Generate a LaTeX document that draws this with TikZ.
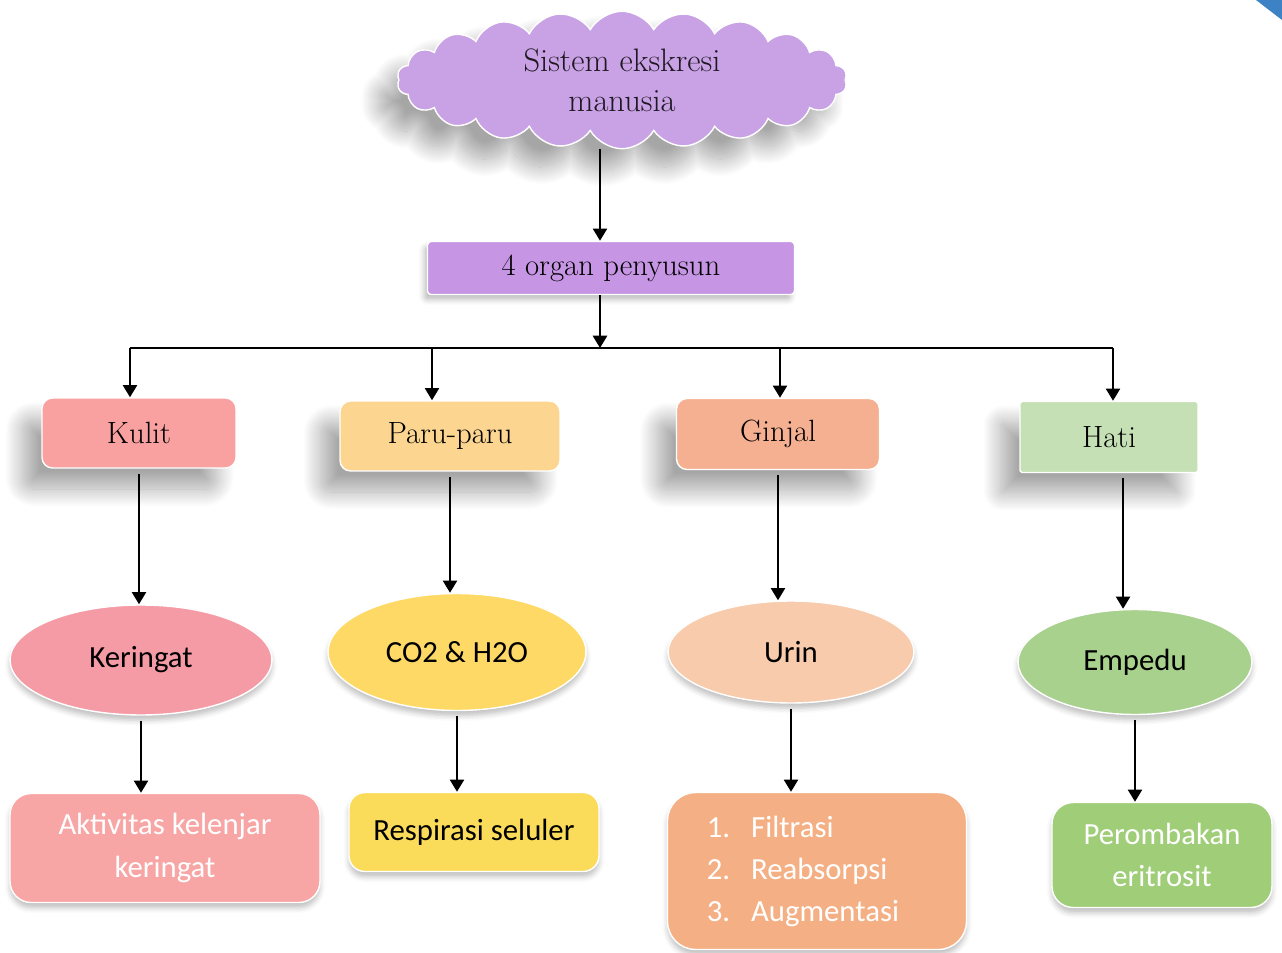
\documentclass[tikz,border=0pt]{standalone}
\usepackage{fontspec}
\setsansfont{Carlito}
\usetikzlibrary{shapes.symbols, shapes.geometric, arrows.meta, shadows.blur}

\definecolor{ungu}{HTML}{C8A2E4}
\definecolor{unguKotak}{HTML}{C696E4}
\definecolor{merahMuda}{HTML}{F9A0A0}
\definecolor{krem}{HTML}{FCD691}
\definecolor{salem}{HTML}{F5B091}
\definecolor{hijauMuda}{HTML}{C5E0B4}
\definecolor{pinkTua}{HTML}{F59BA5}
\definecolor{kuning}{HTML}{FFD966}
\definecolor{peach}{HTML}{F8CBAD}
\definecolor{hijau}{HTML}{A9D18E}
\definecolor{pinkKotak}{HTML}{F7A5A5}
\definecolor{kuningKotak}{HTML}{FADC5A}
\definecolor{oranye}{HTML}{F4B084}
\definecolor{hijauKotak}{HTML}{A0CD78}
\definecolor{biruPojok}{HTML}{3E82C6}

\begin{document}
\begin{tikzpicture}[x=0.02cm, y=-0.02cm, line width=1.4pt,
  >={Triangle[width=8pt,length=7pt]},
  bayang/.style={blur shadow={shadow xshift=-11pt, shadow yshift=-12pt,
    shadow blur radius=10pt, shadow blur steps=25, shadow opacity=35}},
  organ/.style={rectangle, rounded corners=6pt, draw=white, line width=0.8pt,
    font=\fontsize{17.5}{21}\selectfont, bayang},
  hasil/.style={ellipse, draw=white, line width=0.8pt,
    font=\sffamily\fontsize{17.5}{21}\selectfont,
    blur shadow={shadow xshift=0pt, shadow yshift=-3pt, shadow blur radius=3pt, shadow opacity=25}},
  proses/.style={rectangle, rounded corners=12pt, draw=white, line width=0.8pt,
    align=center, text=white, font=\sffamily\fontsize{17.5}{24}\selectfont,
    blur shadow={shadow xshift=0pt, shadow yshift=-3pt, shadow blur radius=3pt, shadow opacity=25}}]
\useasboundingbox (0,0) rectangle (1282,953);

% pojok
\fill[biruPojok] (1256,0) -- (1282,0) -- (1282,20) -- cycle;

% puncak
\node[cloud, cloud puffs=22, cloud puff arc=120, cloud ignores aspect, fill=ungu, draw=white, line width=0.8pt,
  minimum width=9cm, minimum height=2.75cm, align=center, text=black!85!ungu,
  font=\fontsize{18.5}{22.7}\selectfont, bayang] (sistem) at (622,80) {Sistem ekskresi\\manusia};
\node[rectangle, rounded corners=2pt, fill=unguKotak, draw=white, line width=0.8pt,
  minimum width=7.34cm, minimum height=1.06cm, font=\fontsize{17.5}{20}\selectfont,
  blur shadow={shadow xshift=-2pt, shadow yshift=-3pt, shadow blur radius=3pt, shadow opacity=25}]
  (penyusun) at (611,268) {4 organ penyusun};

% organ
\node[organ, fill=merahMuda, minimum width=3.88cm, minimum height=1.4cm] (kulit) at (139,433) {Kulit};
\node[organ, fill=krem, minimum width=4.4cm, minimum height=1.4cm] (paru) at (450,436) {Paru-paru};
\node[organ, fill=salem, minimum width=4.06cm, minimum height=1.42cm] (ginjal) at (778,434) {Ginjal};
\node[organ, fill=hijauMuda, rounded corners=1pt, minimum width=3.56cm, minimum height=1.42cm] (hati) at (1109,437) {Hati};

% zat
\node[hasil, fill=pinkTua, minimum width=5.24cm, minimum height=2.2cm] (keringat) at (141,660) {Keringat};
\node[hasil, fill=kuning, minimum width=5.16cm, minimum height=2.34cm] (co2) at (457,652) {CO2 \& H2O};
\node[hasil, fill=peach, minimum width=4.92cm, minimum height=2.04cm] (urin) at (791,652) {Urin};
\node[hasil, fill=hijau, minimum width=4.68cm, minimum height=2.1cm] (empedu) at (1135,662) {Empedu};

% proses
\node[proses, fill=pinkKotak, minimum width=6.2cm, minimum height=2.18cm] (aktivitas) at (165,848) {Aktivitas kelenjar\\keringat};
\node[proses, fill=kuningKotak, text=black, rounded corners=9pt, minimum width=5cm, minimum height=1.58cm] (respirasi) at (474,832) {Respirasi seluler};
\node[proses, fill=oranye, rounded corners=16pt, minimum width=5.98cm, minimum height=3.14cm] (tahap) at (817,871)
  {\begin{tabular}{@{}l@{\hspace{12pt}}l@{}}1.&Filtrasi\\2.&Reabsorpsi\\3.&Augmentasi\end{tabular}\hspace*{16pt}};
\node[proses, fill=hijauKotak, minimum width=4.4cm, minimum height=2.1cm] (perombakan) at (1162,855) {Perombakan\\eritrosit};

% cabang
\coordinate (cabang) at (600,348);
\coordinate (c1) at (130,348);
\coordinate (c2) at (432,348);
\coordinate (c3) at (780,348);
\coordinate (c4) at (1113,348);

% panah
\draw[->] (cabang |- sistem.south) -- (cabang |- penyusun.north);
\draw[->] (cabang |- penyusun.south) -- (cabang);
\draw (c1) -- (c4);
\draw[->] (c1) -- (c1 |- kulit.north);
\draw[->] (c2) -- (c2 |- paru.north);
\draw[->] (c3) -- (c3 |- ginjal.north);
\draw[->] (c4) -- (c4 |- hati.north);

\path[->, shorten <=3pt]
  (kulit.south) edge (kulit.south |- keringat.north)
  (paru.south) edge (paru.south |- co2.north)
  (ginjal.south) edge (ginjal.south |- urin.north)
  ([xshift=8pt]hati.south) edge ([xshift=8pt]hati.south |- empedu.north)
  (keringat.south) edge (keringat.south |- aktivitas.north)
  (co2.south) edge (co2.south |- respirasi.north)
  (urin.south) edge (urin.south |- tahap.north)
  (empedu.south) edge (empedu.south |- perombakan.north);
\end{tikzpicture}
\end{document}
